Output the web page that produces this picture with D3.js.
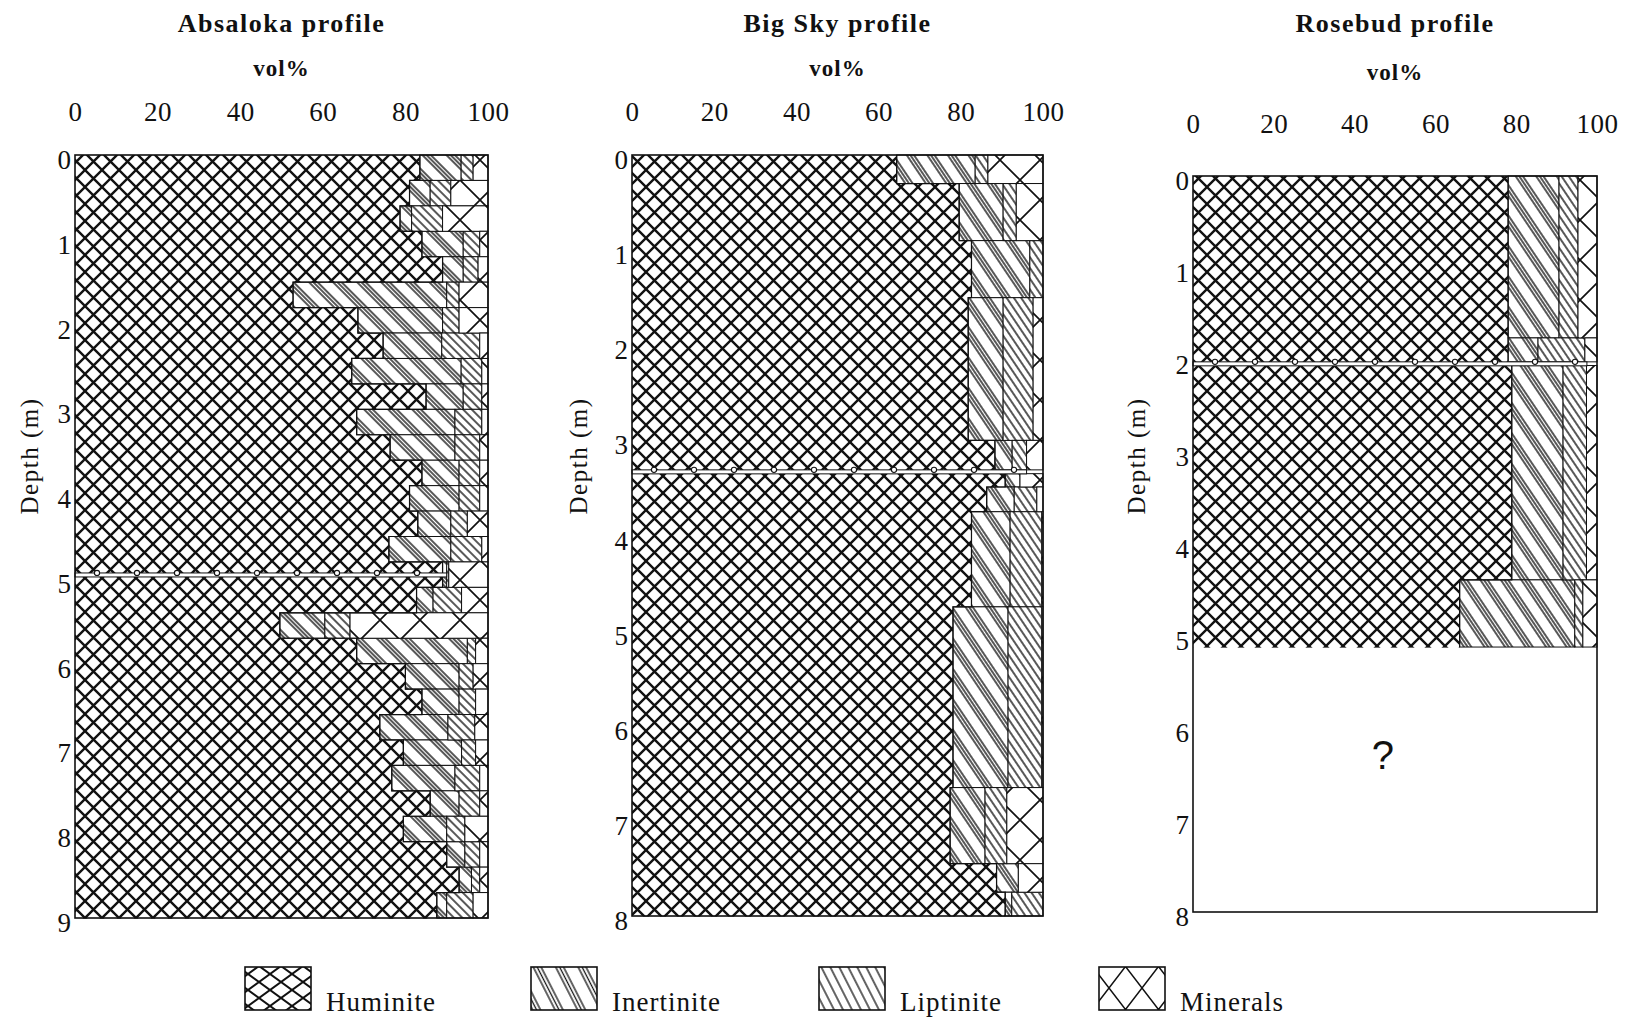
<!DOCTYPE html>
<html>
<head>
<meta charset="utf-8">
<title>Maceral profiles</title>
<script src="https://d3js.org/d3.v7.min.js"></script>
<style>
  body { margin: 0; background: #fff; }
  svg text { font-family: "Liberation Serif", "Times New Roman", serif; fill: #111; }
</style>
</head>
<body>
<svg id="chart" width="1625" height="1020"></svg>
<script>
// maceral groups, stacked left to right
var keys = ["Huminite", "Inertinite", "Liptinite", "Minerals"];
var xTicks = [0, 20, 40, 60, 80, 100];

// Absaloka profile (vol%), one row per sample
var absalokaTop  = [0, 0.3, 0.6, 0.9, 1.2, 1.5, 1.8, 2.1, 2.4, 2.7, 3.0, 3.3, 3.6, 3.9, 4.2, 4.5, 4.8, 5.1, 5.4, 5.7, 6.0, 6.3, 6.6, 6.9, 7.2, 7.5, 7.8, 8.1, 8.4, 8.7];
var absalokaBase = [0.3, 0.6, 0.9, 1.2, 1.5, 1.8, 2.1, 2.4, 2.7, 3.0, 3.3, 3.6, 3.9, 4.2, 4.5, 4.8, 5.1, 5.4, 5.7, 6.0, 6.3, 6.6, 6.9, 7.2, 7.5, 7.8, 8.1, 8.4, 8.7, 9.0];
var absalokaHuminite   = [83.5, 81, 78.7, 84, 89, 52.8, 68.5, 74.6, 67, 85, 68.2, 76.3, 84, 81, 83, 76, 89, 82.7, 49.6, 68.2, 80, 84, 73.8, 79.5, 76.7, 86, 79.5, 90, 93, 87.6];
var absalokaInertinite = [10, 5, 2.8, 10, 5, 37.2, 20.5, 14.2, 26.5, 9, 23.8, 15.7, 9, 12, 8, 15, 1, 4, 10.9, 26.8, 13, 9, 16.5, 14.1, 15.3, 7, 10.5, 4.4, 3, 2.4];
var absalokaLiptinite  = [2.9, 5, 7.5, 4, 3.6, 3, 4, 9.2, 5, 4.5, 6.5, 6, 5, 5, 4, 7.5, 0.5, 6.9, 6.1, 2, 3.4, 4, 6.5, 3.4, 6, 5, 4.4, 3.6, 2, 6.4];
var absalokaMinerals   = [3.6, 9, 11, 2, 2.4, 7, 7, 2, 1.5, 1.5, 1.5, 2, 2, 2, 5, 1.5, 9.5, 6.4, 33.4, 3, 3.6, 3, 3.2, 3, 2, 2, 5.6, 2, 2, 3.6];

// Big Sky profile
var bigSkyTop  = [0, 0.3, 0.9, 1.5, 3.0, 3.35, 3.49, 3.75, 4.75, 6.65, 7.45, 7.75];
var bigSkyBase = [0.3, 0.9, 1.5, 3.0, 3.31, 3.49, 3.75, 4.75, 6.65, 7.45, 7.75, 8.0];
var bigSkyHuminite   = [64.4, 79.6, 82.6, 81.8, 88.3, 90.8, 86.3, 82.6, 78.1, 77.4, 88.7, 90.8];
var bigSkyInertinite = [19.1, 10.7, 14.2, 8.5, 4.2, 3.6, 6.7, 9.4, 13.4, 8.5, 5.3, 1.6];
var bigSkyLiptinite  = [3.1, 3.2, 3.2, 7.3, 3.5, 0, 5.5, 7.7, 8.2, 5.3, 0, 7.6];
var bigSkyMinerals   = [13.4, 6.5, 0, 2.4, 4, 5.6, 1.5, 0.3, 0.3, 8.8, 6, 0];

// Rosebud profile (below 5.1 m unknown)
var rosebudTop  = [0, 1.76, 2.06, 4.39];
var rosebudBase = [1.76, 2.02, 4.39, 5.12];
var rosebudHuminite   = [78, 78, 78.9, 66];
var rosebudInertinite = [12.6, 7.4, 12.7, 28.5];
var rosebudLiptinite  = [4.7, 11.6, 5.8, 2];
var rosebudMinerals   = [4.7, 3, 2.6, 3.5];

// partings (depth in m, lateral extent in vol%)
var partingDepth  = [4.93, 3.31, 2.02];
var partingExtent = [90, 96, 97.5];

var absalokaTicks = [0, 1, 2, 3, 4, 5, 6, 7, 8, 9];
var bigSkyTicks   = [0, 1, 2, 3, 4, 5, 6, 7, 8];
var rosebudTicks  = [0, 1, 2, 3, 4, 5, 6, 7, 8];

function rows(top, base, hum, ine, lip, min) {
  return top.map(function (t, i) {
    return { top: t, base: base[i], Huminite: hum[i], Inertinite: ine[i], Liptinite: lip[i], Minerals: min[i] };
  });
}

var panels = [
  { title: "Absaloka profile", left: 75, right: 488, top: 155, bottom: 918, depth: 9, ticks: absalokaTicks,
    tickY: 121, titleY: 32, volY: 76, depthX: 38, angle: 45,
    data: rows(absalokaTop, absalokaBase, absalokaHuminite, absalokaInertinite, absalokaLiptinite, absalokaMinerals) },
  { title: "Big Sky profile", left: 632, right: 1043, top: 155, bottom: 916, depth: 8, ticks: bigSkyTicks,
    tickY: 121, titleY: 32, volY: 76, depthX: 587, angle: 56,
    data: rows(bigSkyTop, bigSkyBase, bigSkyHuminite, bigSkyInertinite, bigSkyLiptinite, bigSkyMinerals) },
  { title: "Rosebud profile", left: 1193, right: 1597, top: 176, bottom: 912, depth: 8, ticks: rosebudTicks,
    tickY: 133, titleY: 32, volY: 80, depthX: 1145, angle: 56,
    data: rows(rosebudTop, rosebudBase, rosebudHuminite, rosebudInertinite, rosebudLiptinite, rosebudMinerals) }
];

var svg = d3.select("#chart");
var defs = svg.append("defs");
var ink = "#111";

function crossPattern(id, w, h, sw, tx, ty) {
  var p = defs.append("pattern").attr("id", id)
    .attr("patternUnits", "userSpaceOnUse").attr("width", w).attr("height", h);
  if (tx != null) p.attr("patternTransform", "translate(" + tx + "," + ty + ")");
  p.append("rect").attr("width", w).attr("height", h).attr("fill", "#fff");
  p.append("path").attr("d", "M0,0L" + w + "," + h + "M" + w + ",0L0," + h)
    .attr("stroke", ink).attr("stroke-width", sw).attr("fill", "none");
}

function stripePattern(id, angle, period, offsets, sw) {
  var p = defs.append("pattern").attr("id", id)
    .attr("patternUnits", "userSpaceOnUse").attr("width", period).attr("height", 10)
    .attr("patternTransform", "rotate(" + (angle - 90) + ")");
  p.append("rect").attr("width", period).attr("height", 10).attr("fill", "#fff");
  offsets.forEach(function (o) {
    p.append("line").attr("x1", o).attr("x2", o).attr("y1", -1).attr("y2", 11)
      .attr("stroke", ink).attr("stroke-width", sw);
  });
}

crossPattern("Huminite", 17, 17, 2.4);
crossPattern("Minerals", 40, 40, 1.7);
panels.forEach(function (p, i) {
  stripePattern("Inertinite-" + i, p.angle, 17, [2, 5, 8], 1.4);
  stripePattern("Liptinite-" + i, p.angle, 6, [2], 1.4);
});

var stack = d3.stack().keys(keys);

panels.forEach(function (p, pi) {
  var x = d3.scaleLinear().domain([0, 100]).range([p.left, p.right]);
  var y = d3.scaleLinear().domain([0, p.depth]).range([p.top, p.bottom]);
  var g = svg.append("g");

  var series = stack(p.data);
  g.selectAll("g.layer").data(series).join("g").attr("class", "layer")
    .attr("fill", function (s) {
      return (s.key === "Huminite" || s.key === "Minerals") ? "url(#" + s.key + ")" : "url(#" + s.key + "-" + pi + ")";
    })
    .each(function (s) {
      var hum = s.key === "Huminite";
      d3.select(this).selectAll("rect")
        .data(s.filter(function (d) { return d[1] - d[0] > 0; }))
        .join("rect")
        .attr("x", function (d) { return x(d[0]); })
        .attr("width", function (d) { return x(d[1]) - x(d[0]); })
        .attr("y", function (d) { return y(d.data.top); })
        .attr("height", function (d) { return y(d.data.base) - y(d.data.top) + (hum ? 0.6 : 0); })
        .attr("stroke", hum ? "none" : ink).attr("stroke-width", 1);
    });

  // huminite outline as one stepped edge (no lines between rows)
  var pts = [];
  p.data.forEach(function (d, i) {
    if (i > 0 && Math.abs(p.data[i - 1].base - d.top) > 0.001) {
      pts.push(null);
    }
    pts.push([d.Huminite, d.top], [d.Huminite, d.base]);
  });
  var edge = d3.line().defined(function (d) { return d !== null; })
    .x(function (d) { return x(d[0]); }).y(function (d) { return y(d[1]); });
  g.append("path").attr("d", edge(pts)).attr("fill", "none").attr("stroke", ink).attr("stroke-width", 1.2);

  // parting band with small nodules
  var pd = partingDepth[pi], pe = partingExtent[pi];
  var py = y(pd);
  g.append("rect").attr("x", x(0)).attr("y", py).attr("width", x(pe) - x(0)).attr("height", 4)
    .attr("fill", "#fff").attr("stroke", ink).attr("stroke-width", 1);
  g.selectAll("circle.nod").data(d3.range(x(0) + 22, x(pe) - 10, 40)).join("circle")
    .attr("class", "nod").attr("cx", function (d) { return d; }).attr("cy", py)
    .attr("r", 2.6).attr("fill", "#fff").attr("stroke", ink).attr("stroke-width", 1.1);

  // frame
  g.append("rect").attr("x", p.left).attr("y", p.top)
    .attr("width", p.right - p.left).attr("height", p.bottom - p.top)
    .attr("fill", "none").attr("stroke", ink).attr("stroke-width", 1.6);

  // axes
  var xa = g.append("g").attr("transform", "translate(0," + p.tickY + ")")
    .call(d3.axisTop(x).tickValues(xTicks).tickSize(0).tickPadding(0));
  xa.select(".domain").remove();
  xa.attr("font-family", null).attr("font-size", null);
  xa.selectAll("text").style("font-size", "27px").style("letter-spacing", "0.5px");

  var ya = g.append("g").attr("transform", "translate(" + p.left + ",0)")
    .call(d3.axisLeft(y).tickValues(p.ticks).tickFormat(d3.format("d")).tickSize(0).tickPadding(4));
  ya.select(".domain").remove();
  ya.attr("font-family", null).attr("font-size", null);
  ya.selectAll("text").attr("dy", "0.5em").style("font-size", "27px");

  var cx = (p.left + p.right) / 2;
  g.append("text").attr("x", cx).attr("y", p.titleY).attr("text-anchor", "middle")
    .style("font-size", "26px").style("font-weight", "bold").style("letter-spacing", "1.5px")
    .text(p.title);
  g.append("text").attr("x", cx).attr("y", p.volY).attr("text-anchor", "middle")
    .style("font-size", "23px").style("font-weight", "bold").style("letter-spacing", "1px")
    .text("vol%");
  g.append("text").attr("transform", "translate(" + p.depthX + ",456) rotate(-90)")
    .attr("text-anchor", "middle").style("font-size", "25px").style("letter-spacing", "1.5px")
    .text("Depth (m)");

  if (pi === 2) {
    g.append("text").attr("x", x(47)).attr("y", y(6.45)).attr("text-anchor", "middle")
      .style("font-family", "'Liberation Sans', Arial, sans-serif").style("font-size", "40px")
      .text("?");
  }
});

// legend
var legendX = [245, 531, 819, 1099];
crossPattern("leg-Huminite", 22, 16, 2, 245, 967);
stripePattern("leg-Inertinite", 63, 20, [2, 5.5, 9], 1.3);
stripePattern("leg-Liptinite", 63, 8, [2], 1.3);
crossPattern("leg-Minerals", 33, 43, 1.5, 1099, 967);

var lg = svg.append("g").selectAll("g").data(keys).join("g")
  .attr("transform", function (d, i) { return "translate(" + legendX[i] + ",967)"; });
lg.append("rect").attr("width", 66).attr("height", 43)
  .attr("fill", function (d) { return "url(#leg-" + d + ")"; })
  .attr("stroke", ink).attr("stroke-width", 1.6);
lg.append("text").attr("x", 81).attr("y", 44)
  .style("font-size", "27px").style("letter-spacing", "1px")
  .text(function (d) { return d; });
</script>
</body>
</html>
